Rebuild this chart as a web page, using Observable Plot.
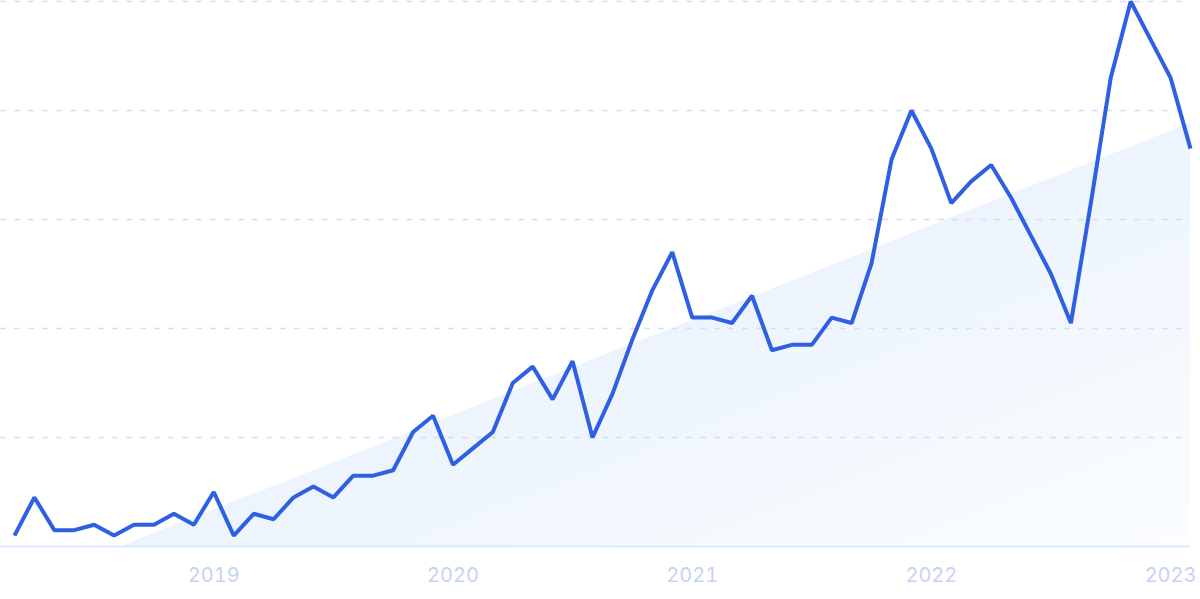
<!DOCTYPE html>
<html>
<head>
<meta charset="utf-8">
<script src="https://cdn.jsdelivr.net/npm/d3@7"></script>
<script src="https://cdn.jsdelivr.net/npm/@observablehq/plot@0.6"></script>
<style>
  html, body { margin: 0; padding: 0; background: #ffffff; }
  #chart { width: 1200px; height: 599px; overflow: hidden; }
</style>
</head>
<body>
<div id="chart"></div>
<script>
// Monthly categories: March 2018 .. February 2023
const months = d3.utcMonth.range(new Date(Date.UTC(2018, 2, 1)), new Date(Date.UTC(2023, 2, 1)));

// Search interest (0-100)
const values = [
  2, 9, 3, 3, 4, 2, 4, 4, 6, 4,
  10, 2, 6, 5, 9, 11, 9, 13, 13, 14,
  21, 24, 15, 18, 21, 30, 33, 27, 34, 20,
  28, 38, 47, 54, 42, 42, 41, 46, 36, 37,
  37, 42, 41, 52, 71, 80, 73, 63, 67, 70,
  64, 57, 50, 41, 63, 86, 100, 93, 86, 73
];

// Axis tick labels
const yearLabels = ["2019", "2020", "2021", "2022", "2023"];
const gridValues = [20, 40, 60, 80, 100];

const data = values.map((v, i) => ({ i, v, date: months[i] }));

// Least-squares trend of the series, drawn as a shaded wedge above zero
const n = data.length;
const mi = d3.mean(data, d => d.i);
const mv = d3.mean(data, d => d.v);
const b = d3.sum(data, d => (d.i - mi) * (d.v - mv)) / d3.sum(data, d => (d.i - mi) ** 2);
const a = mv - b * mi;
const i0 = Math.max(0, -a / b);
const iN = n - 1;
const trend = [{ i: i0, y: Math.max(0, a + b * i0) }, { i: iN, y: a + b * iN }];

const tickIdx = yearLabels.map(y => months.findIndex(m => m.getUTCFullYear() === +y && m.getUTCMonth() === 0));

const svg = Plot.plot({
  width: 1200,
  height: 599,
  marginLeft: 0,
  marginRight: 10,
  marginTop: 1,
  marginBottom: 53,
  style: { background: "#ffffff", fontFamily: "Inter, 'Noto Sans', sans-serif", overflow: "visible" },
  x: { domain: [-0.7, iN], axis: null },
  y: { domain: [0, 100], axis: null },
  marks: [
    Plot.areaY(trend, { x: "i", y1: 0, y2: "y", fill: "url(#trendGrad)", curve: "linear" }),
    Plot.ruleY(gridValues, { stroke: "#d2e0fa", strokeWidth: 1.3, strokeDasharray: "6,8" }),
    Plot.ruleY([0], { stroke: "#d2e5fb", strokeWidth: 1.6 }),
    Plot.axisX({
      ticks: tickIdx,
      tickFormat: (d, k) => yearLabels[k],
      tickSize: 0,
      tickPadding: 21,
      fontSize: 20,
      color: "#c6d2f4",
      fill: "#c6d2f4",
      label: null
    }),
    Plot.line(data, { x: "i", y: "v", stroke: "#2f5fe2", strokeWidth: 4, strokeLinejoin: "miter", strokeLinecap: "butt" })
  ]
});

// Gradient definition for the trend wedge
const NS = "http://www.w3.org/2000/svg";
const defs = document.createElementNS(NS, "defs");
const grad = document.createElementNS(NS, "linearGradient");
grad.setAttribute("id", "trendGrad");
grad.setAttribute("x1", "0"); grad.setAttribute("y1", "0");
grad.setAttribute("x2", "1"); grad.setAttribute("y2", "1");
[["0%", "#dfebfb"], ["100%", "#fbfdff"]].forEach(([off, col]) => {
  const s = document.createElementNS(NS, "stop");
  s.setAttribute("offset", off);
  s.setAttribute("stop-color", col);
  grad.appendChild(s);
});
defs.appendChild(grad);
svg.insertBefore(defs, svg.firstChild);

document.getElementById("chart").appendChild(svg);
</script>
</body>
</html>
